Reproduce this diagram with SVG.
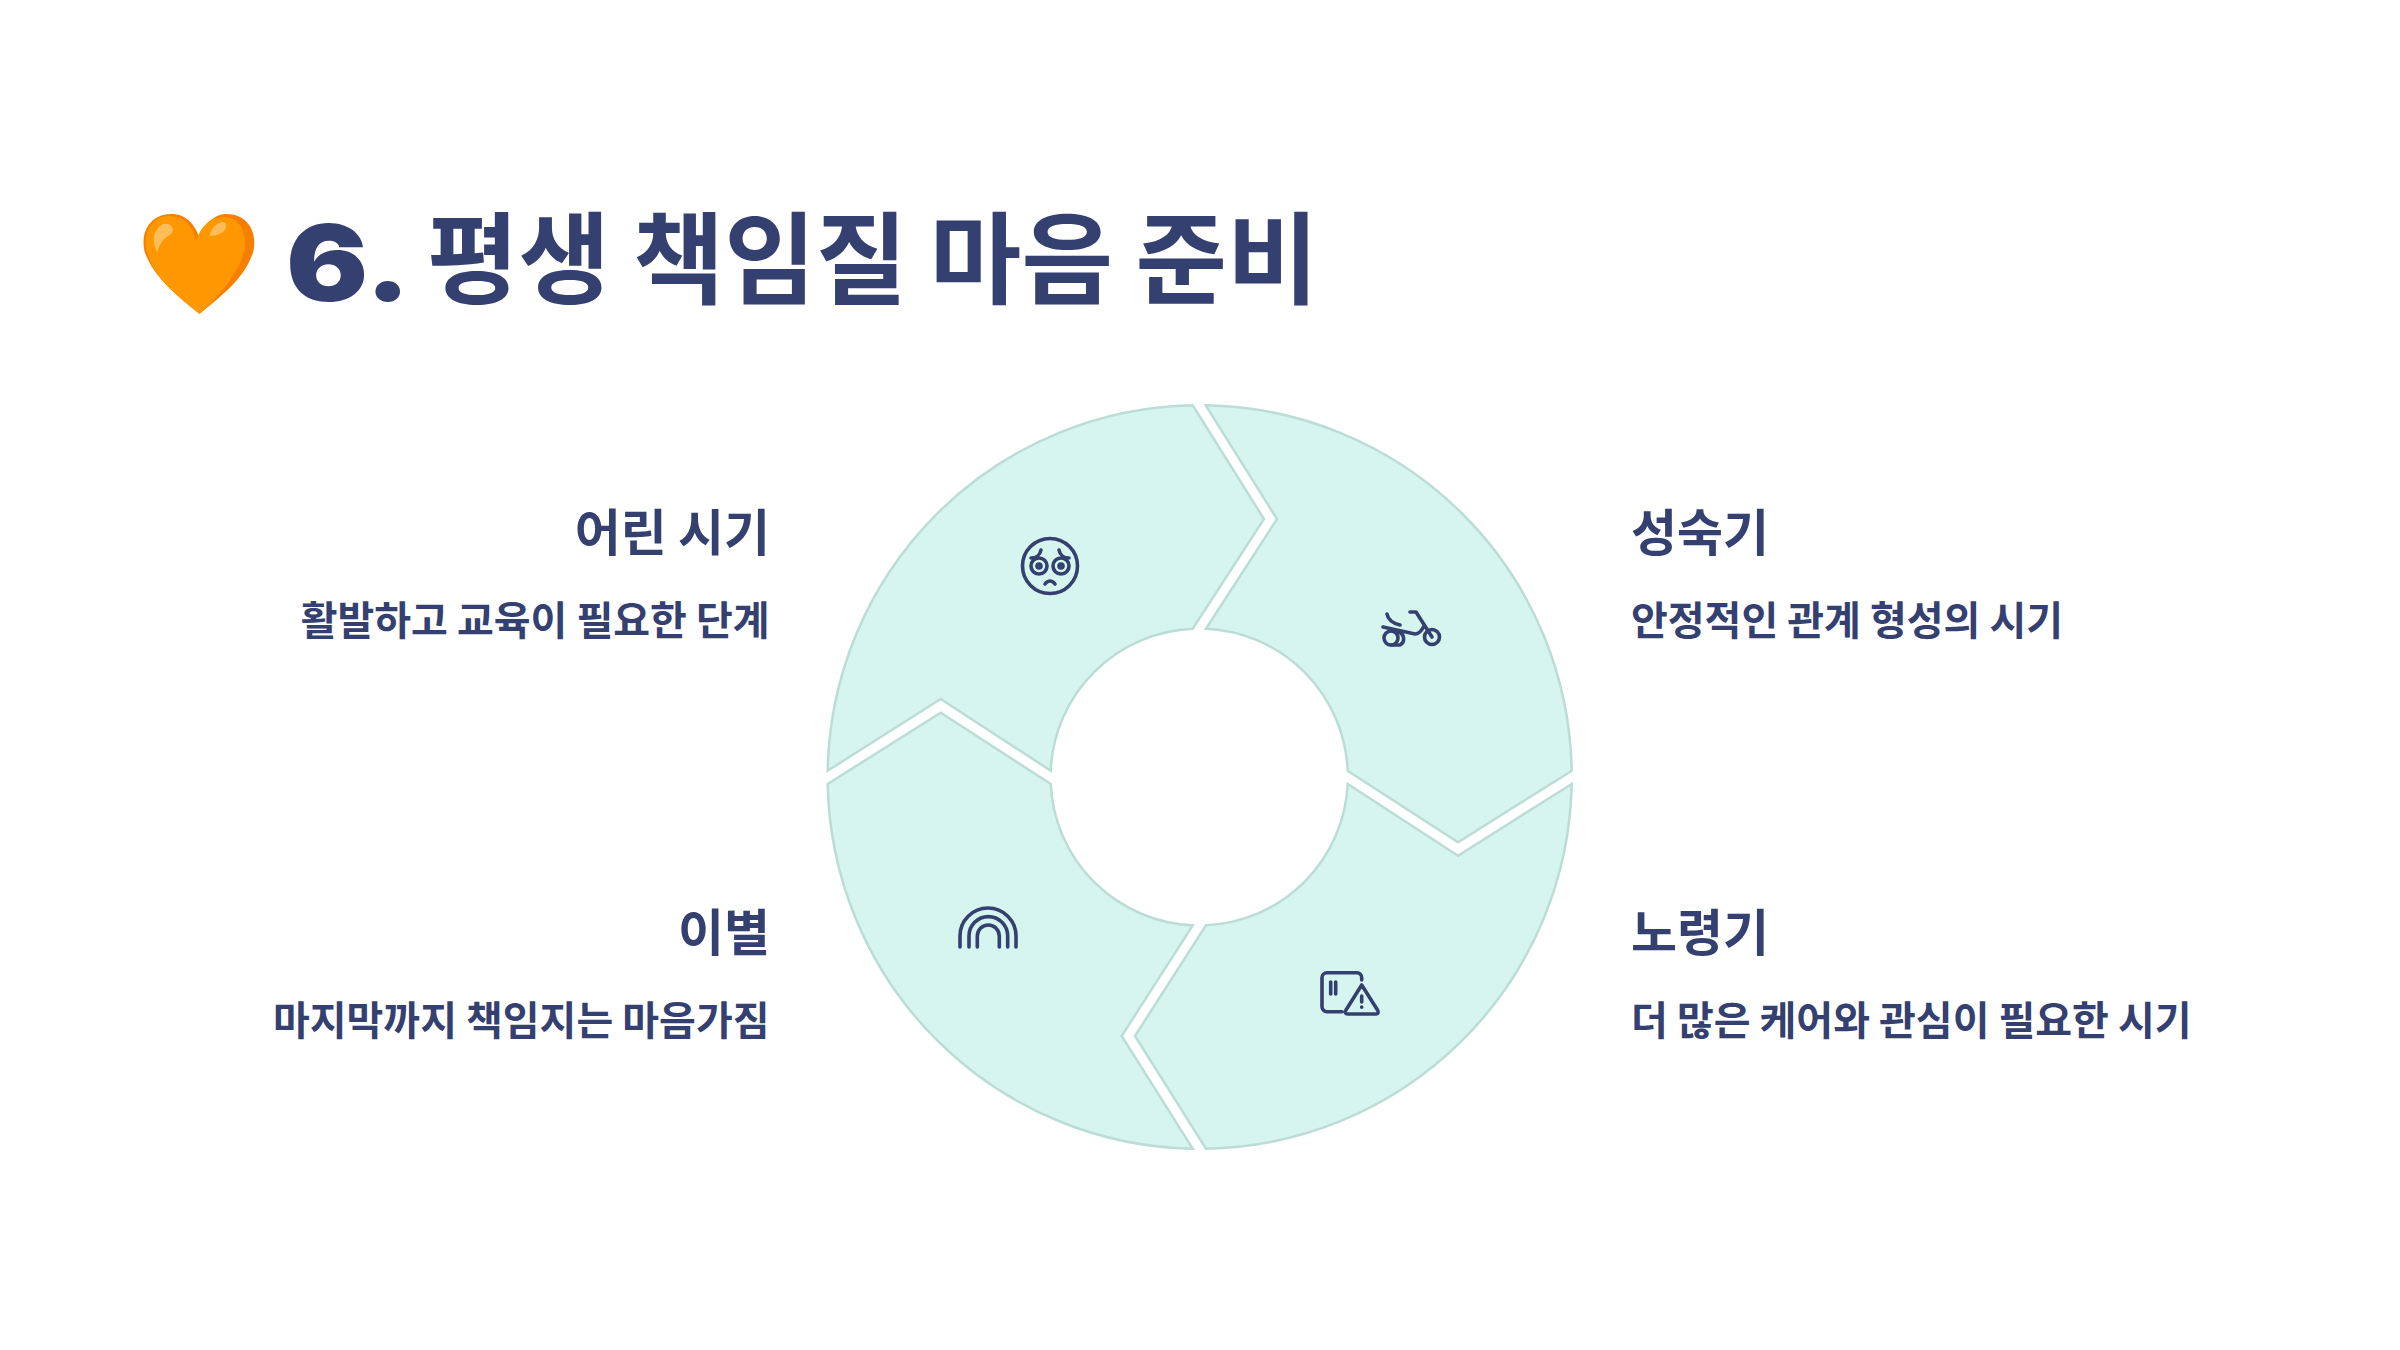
<svg xmlns="http://www.w3.org/2000/svg" width="2400" height="1350" viewBox="0 0 2400 1350">
<style>
.t{font-family:"Noto Sans CJK KR","Noto Sans",sans-serif;fill:#34406f}
.title{font-size:99.5px;font-weight:700}
.h{font-size:50px;font-weight:700}
.s{font-size:40px;font-weight:700}
.seg{fill:#d5f5ee;stroke:#bcddd5;stroke-width:2.5;stroke-linejoin:miter}
.i{fill:none;stroke:#34406f;stroke-width:3.6;stroke-linecap:round;stroke-linejoin:round}
</style>
<rect width="2400" height="1350" fill="#fff"/>
<g id="title">
<g transform="translate(199.5 0) scale(1.135 1) translate(-190 0)">
<path d="M190 314C165 291 150 276 142 253C137 232 147 214 165 214C178 214 186 224 190 238C194 224 203 214 214 214C232 214 242 232 237 253C230 276 215 291 190 314Z" fill="#f77f00"/>
<path d="M190 314C165 291 150 276 144 253C139 234 148 216 163 216C176 216 184 226 187 241C191 226 200 216 212 217C226 218 233 234 229 253C224 273 208 295 190 314Z" fill="#ff9800"/>
<path d="M153 252C148 243 148 230 158 224C165 222 169 229 165 234C158 239 155 243 153 252Z" fill="#ffbd59"/>
<path d="M199 236C200 228 206 222 211 222C215 223 214 231 209 233C206 235 203 236 199 236Z" fill="#ffbd59"/>
</g>
<text class="t" style="font-family:Inter,sans-serif;font-weight:900;font-size:106px" transform="translate(286 301) scale(1.15 1)">6.</text>
<text class="t title" x="427" y="296">평생 책임질 마음 준비</text>
</g>
<g id="connectors"></g>
<g id="node-young">
<path class="seg" d="M827.7 770.7A372 372 0 0 1 1192.7 405.3L1264 519L1192.7 628.7A148.5 148.5 0 0 0 1050.7 770.7L940.7 699Z"/>
<g class="i" transform="translate(0 1)"><circle cx="1050" cy="565" r="27.5"/><circle cx="1039" cy="565" r="8"/><circle cx="1061" cy="565" r="8"/><circle cx="1039" cy="565" r="2"/><circle cx="1061" cy="565" r="2"/><path d="M1031 557C1036 557 1040 554 1041 549M1069 557C1064 557 1060 554 1059 549M1045 583C1048 579 1052 579 1055 583"/></g>
<text class="t h" x="770" y="551" text-anchor="end">어린 시기</text>
<text class="t s" x="769.5" y="635" text-anchor="end">활발하고 교육이 필요한 단계</text>
</g>
<g id="node-mature">
<path class="seg" d="M1205.7 405.3A372 372 0 0 1 1571.7 770.7L1458 842.3L1347.7 770.7A148.5 148.5 0 0 0 1206 628.7L1277 519Z"/>
<g class="i"><circle cx="1432" cy="637" r="7.5"/><circle cx="1391" cy="638" r="7"/><path d="M1398 632A7 7 0 0 1 1400 645H1391M1383 627L1415 634C1419 634 1422 630 1424 626M1410 612H1416L1432 637M1387 614C1388 620 1392 623 1400 625"/></g>
<text class="t h" x="1631" y="551">성숙기</text>
<text class="t s" x="1631" y="635">안정적인 관계 형성의 시기</text>
</g>
<g id="node-senior">
<path class="seg" d="M1571.7 784A372 372 0 0 1 1206 1148.7L1135 1036L1206 925.3A148.5 148.5 0 0 0 1347.7 784L1458 855.7Z"/>
<g class="i"><path d="M1342 1011.7H1327A5 5 0 0 1 1322 1006.7V977.7A5 5 0 0 1 1327 972.7H1357A5 5 0 0 1 1361.7 977.7V980M1330.7 982V994M1335.7 982V994M1361.7 985L1377.5 1010C1379 1012 1378 1014 1376 1014H1347.5C1345.5 1014 1344.5 1012 1346 1010ZM1361.7 996V1002M1361.7 1007V1007.2"/></g>
<text class="t h" x="1631" y="951">노령기</text>
<text class="t s" x="1631" y="1035">더 많은 케어와 관심이 필요한 시기</text>
</g>
<g id="node-farewell">
<path class="seg" d="M1192.7 1148.7A372 372 0 0 1 827.7 784L940.7 712.7L1050.7 784A148.5 148.5 0 0 0 1192.7 925.3L1121.7 1036Z"/>
<g class="i"><path d="M960 947V936A28 28 0 0 1 1016 936V947M969 947V936A19.3 19.3 0 0 1 1007.7 936V947M977.3 947V936A11 11 0 0 1 999.3 936V947"/></g>
<text class="t h" x="770" y="951" text-anchor="end">이별</text>
<text class="t s" x="769.5" y="1035" text-anchor="end">마지막까지 책임지는 마음가짐</text>
</g>
</svg>
